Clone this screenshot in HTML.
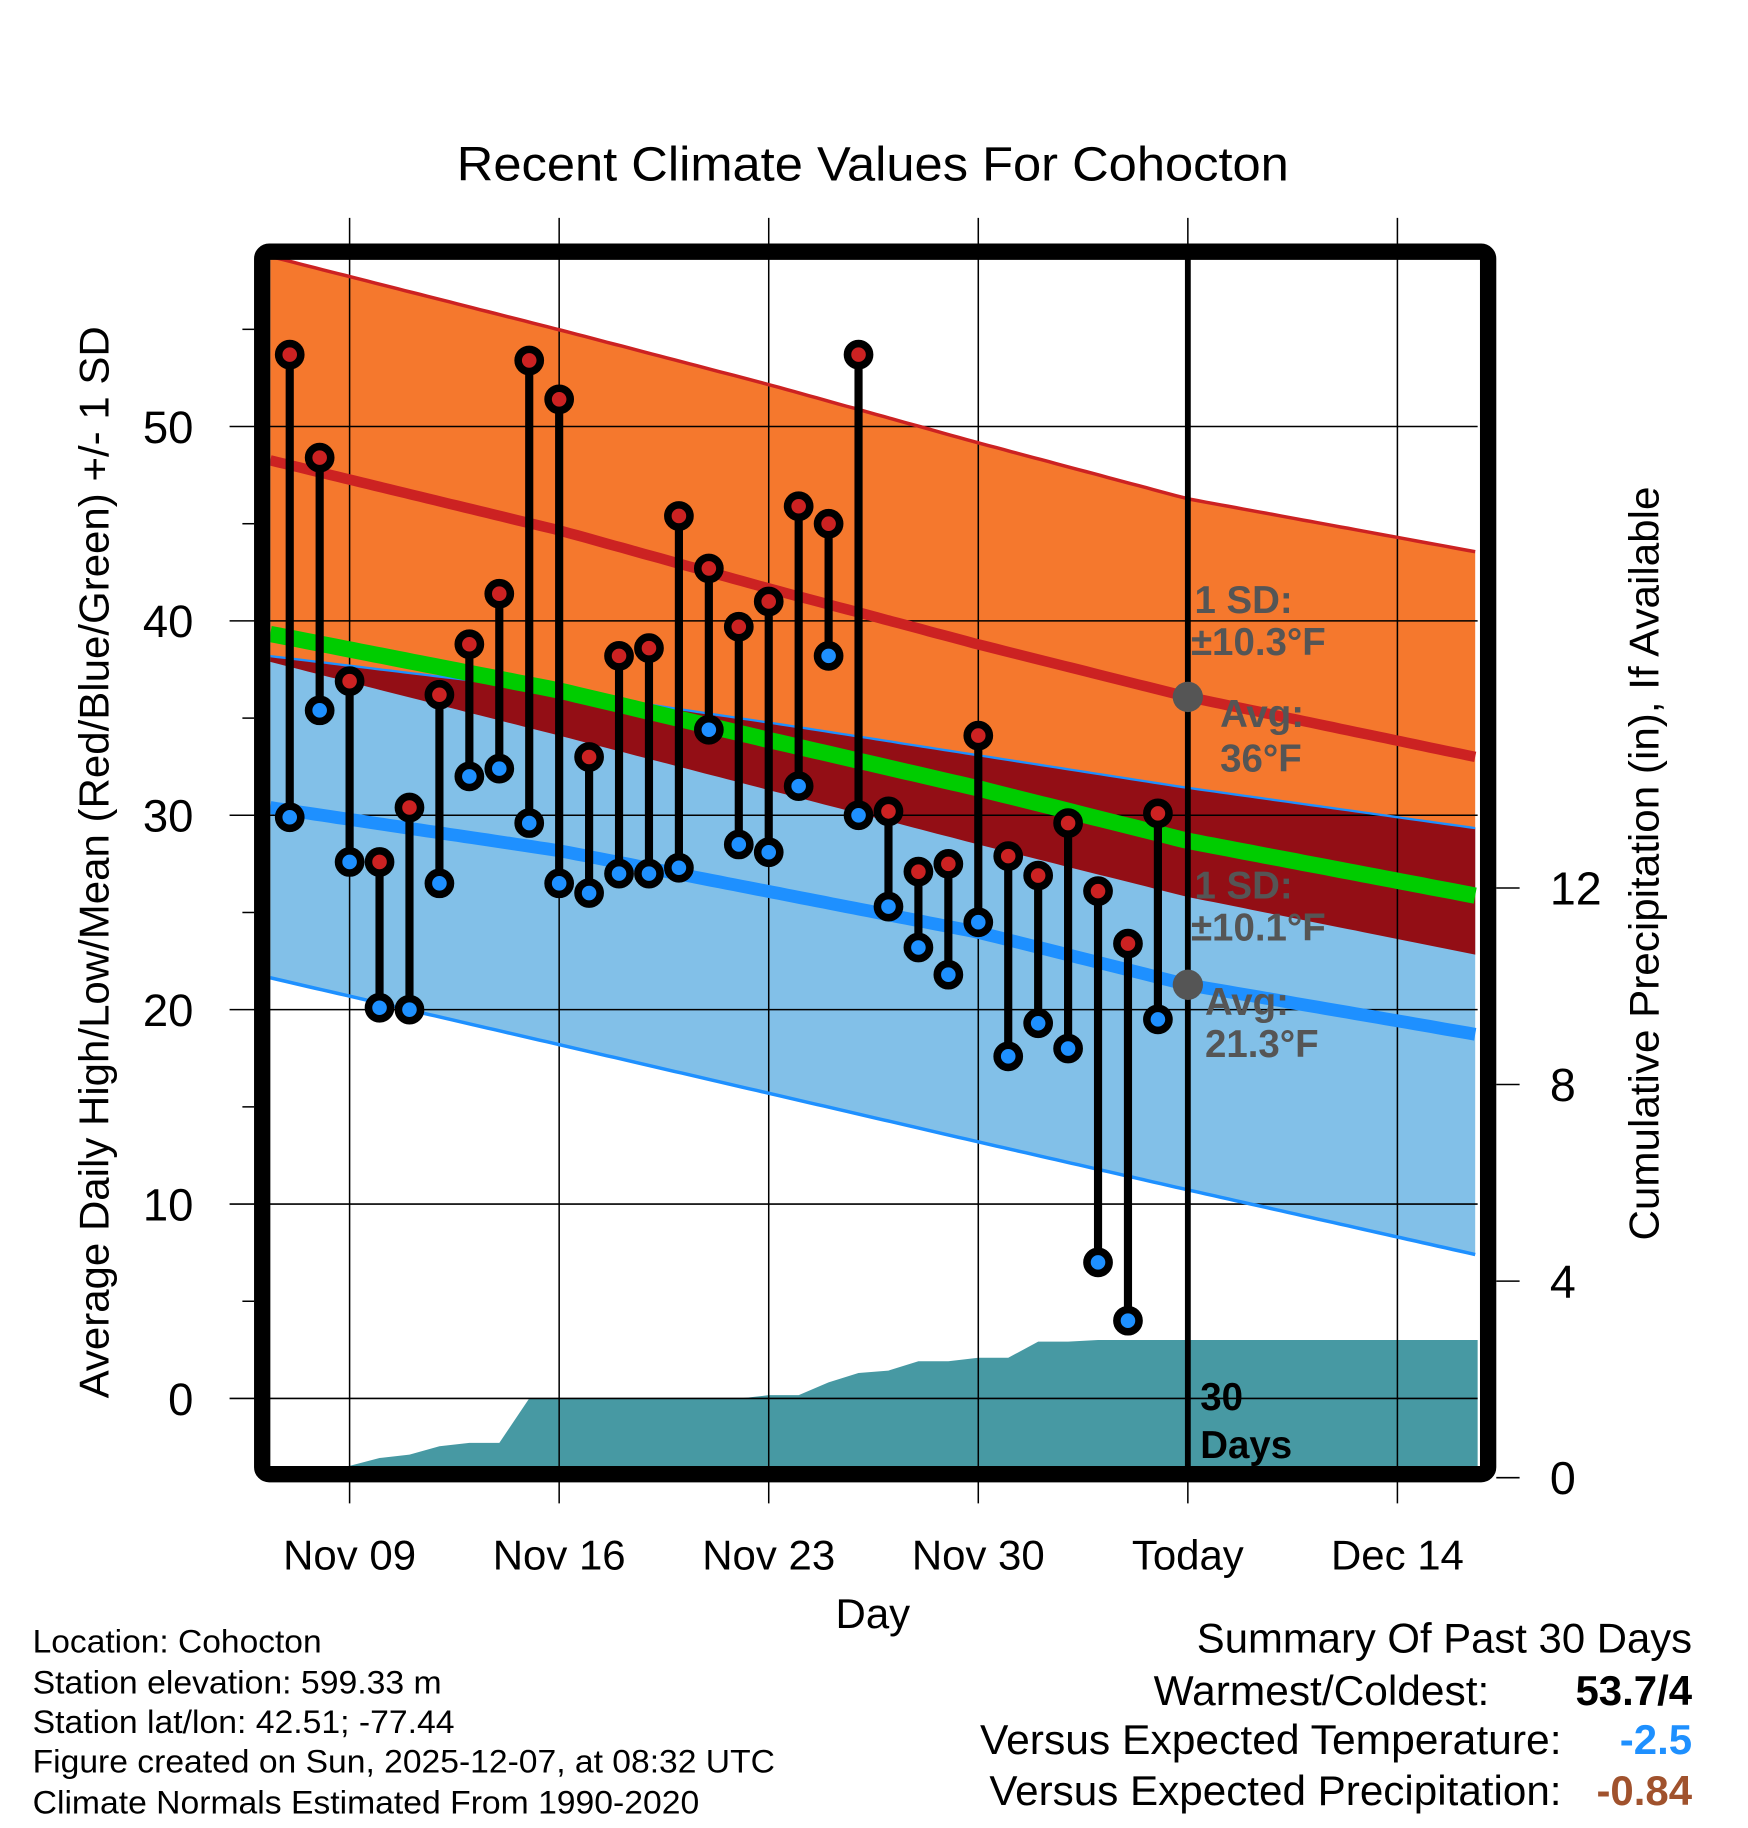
<!DOCTYPE html>
<html><head><meta charset="utf-8"><style>
html,body{margin:0;padding:0;background:#fff;}
svg{display:block;font-family:"Liberation Sans",sans-serif;}
</style></head><body>
<svg id="chart" width="1748" height="1828" viewBox="0 0 1500 1568.6" preserveAspectRatio="none" xmlns="http://www.w3.org/2000/svg">
<defs><clipPath id="plotclip"><rect x="232" y="222" width="1036" height="1038"/></clipPath></defs>
<g id="bands" clip-path="url(#plotclip)"></g>
<g id="grid"></g>
<g id="lines" clip-path="url(#plotclip)"></g>
<g id="marks"></g>
<g id="annot"></g>
<rect x="225" y="216" width="1052" height="1049" rx="6" fill="none" stroke="#000" stroke-width="14"/>
<text x="749" y="155" font-size="41" text-anchor="middle" textLength="714" lengthAdjust="spacingAndGlyphs">Recent Climate Values For Cohocton</text>
<text x="749" y="1397" font-size="36" text-anchor="middle">Day</text>
<text transform="translate(93,740) rotate(-90)" font-size="36" text-anchor="middle" textLength="920" lengthAdjust="spacingAndGlyphs">Average Daily High/Low/Mean (Red/Blue/Green) +/- 1 SD</text>
<text transform="translate(1423,741) rotate(-90)" font-size="36" text-anchor="middle" textLength="647" lengthAdjust="spacingAndGlyphs">Cumulative Precipitation (in), If Available</text>
<g font-size="28">
<text x="28" y="1418" textLength="248" lengthAdjust="spacingAndGlyphs">Location: Cohocton</text>
<text x="28" y="1453" textLength="351" lengthAdjust="spacingAndGlyphs">Station elevation: 599.33 m</text>
<text x="28" y="1487" textLength="362" lengthAdjust="spacingAndGlyphs">Station lat/lon: 42.51; -77.44</text>
<text x="28" y="1521" textLength="637" lengthAdjust="spacingAndGlyphs">Figure created on Sun, 2025-12-07, at 08:32 UTC</text>
<text x="28" y="1556" textLength="572" lengthAdjust="spacingAndGlyphs">Climate Normals Estimated From 1990-2020</text>
</g>
<g font-size="36">
<text x="1452" y="1418" text-anchor="end" textLength="425" lengthAdjust="spacingAndGlyphs">Summary Of Past 30 Days</text>
<text x="1278" y="1463" text-anchor="end" textLength="288" lengthAdjust="spacingAndGlyphs">Warmest/Coldest:</text>
<text x="1452" y="1463" text-anchor="end" font-weight="bold">53.7/4</text>
<text x="1340" y="1505" text-anchor="end" textLength="499" lengthAdjust="spacingAndGlyphs">Versus Expected Temperature:</text>
<text x="1452" y="1505" text-anchor="end" font-weight="bold" fill="#1e90ff">-2.5</text>
<text x="1340" y="1549" text-anchor="end" textLength="491" lengthAdjust="spacingAndGlyphs">Versus Expected Precipitation:</text>
<text x="1452" y="1549" text-anchor="end" font-weight="bold" fill="#a0522d">-0.84</text>
</g>
</svg>
<script>
// day index: 0 = Nov 09
const normalDays = [-2.65, 7, 14, 21, 28, 37.7];
const highUpper = [58.75, 54.98, 52.16, 49.16, 46.28, 43.53];
const highMean = [48.26, 44.66, 41.67, 38.79, 36.09, 32.97];
const highLower = [37.89, 34.1, 31.3, 28.5, 25.8, 22.8];
const lowUpper = [38.19, 36.39, 34.77, 33.09, 31.41, 29.32];
const lowMean = [30.4, 28.18, 26.08, 23.98, 21.28, 18.71];
const lowLower = [21.64, 18.2, 15.7, 13.2, 10.73, 7.37];
const obsDays = [-2,-1,0,1,2,3,4,5,6,7,8,9,10,11,12,13,14,15,16,17,18,19,20,21,22,23,24,25,26,27];
const highs = [53.7,48.4,36.9,27.6,30.4,36.2,38.8,41.4,53.4,51.4,33.0,38.2,38.6,45.4,42.7,39.7,41.0,45.9,45.0,53.7,30.2,27.1,27.5,34.1,27.9,26.9,29.6,26.1,23.4,30.1];
const lows = [29.9,35.4,27.6,20.1,20.0,26.5,32.0,32.4,29.6,26.5,26.0,27.0,27.0,27.3,34.4,28.5,28.1,31.5,38.2,30.0,25.3,23.2,21.8,24.5,17.6,19.3,18.0,7.0,4.0,19.5];
const precip = [0,0,0.24,0.40,0.47,0.64,0.71,0.71,1.61,1.61,1.61,1.61,1.61,1.61,1.61,1.61,1.68,1.68,1.94,2.13,2.18,2.37,2.37,2.44,2.44,2.77,2.77,2.80,2.80,2.80];
const xTickDays = [0,7,14,21,28,35];
const xTickLabels = ["Nov 09","Nov 16","Nov 23","Nov 30","Today","Dec 14"];
const yTicks = [0,10,20,30,40,50];
const y2Ticks = [0,4,8,12];
const todayDay = 28;

const NS="http://www.w3.org/2000/svg";
const X0=232,X1=1268,Y0=222,Y1=1260;
const xs=d=>300+d*25.69;
const ys=v=>1200-v*16.68;
const y2s=v=>1268-v*42.17;
function mk(tag,attrs,parent){const e=document.createElementNS(NS,tag);for(const k in attrs)e.setAttribute(k,attrs[k]);parent.appendChild(e);return e;}
function lin(arr,d){const n=normalDays;if(d<=n[0])return arr[0];for(let i=1;i<n.length;i++){if(d<=n[i]){const t=(d-n[i-1])/(n[i]-n[i-1]);return arr[i-1]+t*(arr[i]-arr[i-1]);}}return arr[arr.length-1];}
const sample=[];for(let d=normalDays[0];d<=normalDays[normalDays.length-1]+0.001;d+=0.25)sample.push(d);
function pts(arr){return sample.map(d=>xs(d).toFixed(1)+","+ys(lin(arr,d)).toFixed(1));}
function band(a,b){return pts(a).concat(pts(b).reverse()).join(" ");}
function line(a){return pts(a).join(" ");}
const meanArr=highMean.map((v,i)=>(v+lowMean[i])/2);

const bands=document.getElementById('bands');
let e;
e=mk('polygon',{points:band(highUpper,highLower),fill:'#f5782d'},bands);


e=mk('polygon',{points:band(lowUpper,lowLower),fill:'#82c0e8'},bands);


e=mk('polygon',{points:band(lowUpper,highLower),fill:'#930e15'},bands);


let pp=[xs(-3)+","+(Y1+10)];
obsDays.forEach((d,i)=>pp.push(xs(d).toFixed(1)+","+y2s(precip[i]).toFixed(1)));
pp.push(X1+10+","+y2s(precip[precip.length-1]).toFixed(1));
pp.push(X1+10+","+(Y1+10));
e=mk('polygon',{points:pp.join(" "),fill:'#4799a3'},bands);



const grid=document.getElementById('grid');
xTickDays.forEach((d,i)=>{
  const l=mk('line',{x1:xs(d),x2:xs(d),y1:187,y2:1290,stroke:'#000','stroke-width':1.3},grid);
  
  
  const t=mk('text',{x:xs(d),y:1347,'font-size':36,'text-anchor':'middle'},grid);
  t.textContent=xTickLabels[i];
  
  
});
yTicks.forEach(v=>{
  const l=mk('line',{x1:197,x2:X1,y1:ys(v),y2:ys(v),stroke:'#000','stroke-width':1.3},grid);
  
  
  const t=mk('text',{x:166,y:ys(v)+14,'font-size':39,'text-anchor':'end'},grid);
  t.textContent=v;
  
  
  const m=mk('line',{x1:208,x2:218,y1:ys(v+5),y2:ys(v+5),stroke:'#000','stroke-width':1.3},grid);
  
  
});
y2Ticks.forEach(v=>{
  const l=mk('line',{x1:1284,x2:1304,y1:y2s(v),y2:y2s(v),stroke:'#000','stroke-width':1.3},grid);
  
  
  const t=mk('text',{x:1330,y:y2s(v)+14,'font-size':40},grid);
  t.textContent=v;
  
  
});

const lines=document.getElementById('lines');
[[highUpper,'#cc2222',3,'high-upper-line'],[lowUpper,'#1e90ff',2,'low-upper-line'],[lowLower,'#1e90ff',3,'low-lower-line'],[highMean,'#cc2222',9,'normal-high-line'],[lowMean,'#1e90ff',11,'normal-low-line'],[meanArr,'#00cc00',14,'normal-mean-line']].forEach(c=>{
  const l=mk('polyline',{points:line(c[0]),fill:'none',stroke:c[1],'stroke-width':c[2]},lines);
  
  
});
e=mk('line',{x1:xs(todayDay),x2:xs(todayDay),y1:Y0,y2:Y1,stroke:'#000','stroke-width':5},lines);



const marks=document.getElementById('marks');
obsDays.forEach((d,i)=>{
  const x=xs(d);
  const g=mk('g',{},marks);
  
  
  mk('line',{x1:x,x2:x,y1:ys(highs[i]),y2:ys(lows[i]),stroke:'#000','stroke-width':7},g);
  const hi=mk('circle',{cx:x,cy:ys(highs[i]),r:9.5,fill:'#cc2222',stroke:'#000','stroke-width':6.5},g);
  
  
  const lo=mk('circle',{cx:x,cy:ys(lows[i]),r:9.5,fill:'#1e90ff',stroke:'#000','stroke-width':6.5},g);
  
  
});

const an=document.getElementById('annot');
const tx=xs(todayDay);
e=mk('circle',{cx:tx,cy:ys(lin(highMean,todayDay)),r:13,fill:'#555'},an);


e=mk('circle',{cx:tx,cy:ys(lin(lowMean,todayDay)),r:13,fill:'#555'},an);


const labels=[["1 SD:",1025,526,'#555'],["±10.3°F",1022,562,'#555'],["Avg:",1047,624,'#555'],["36°F",1047,662,'#555'],["1 SD:",1025,771,'#555'],["±10.1°F",1022,807,'#555'],["Avg:",1034,871,'#555'],["21.3°F",1034,907,'#555'],["30",1030,1210,'#000'],["Days",1030,1251,'#000']];
labels.forEach(l=>{
  const t=mk('text',{x:l[1],y:l[2],'font-size':33,'font-weight':'bold',fill:l[3]},an);
  t.textContent=l[0];
  
  
});
</script>
</body></html>
